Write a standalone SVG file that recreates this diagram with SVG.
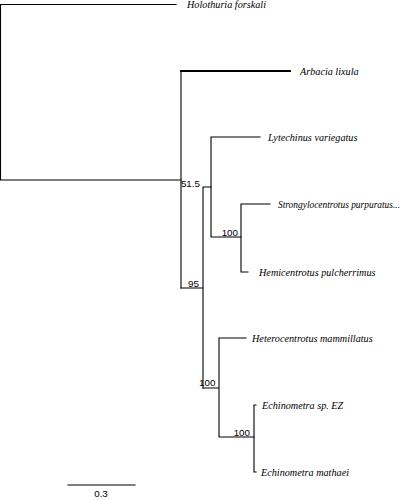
<svg xmlns="http://www.w3.org/2000/svg" width="410" height="500" viewBox="0 0 410 500">
<style>
.br{fill:none;stroke:#000;stroke-width:1.1;stroke-linecap:square}
.tx{font-family:"Liberation Serif","Times New Roman",serif;font-style:italic;font-size:10.2px;fill:#000}
.bs{font-family:"Liberation Sans",Arial,sans-serif;font-size:9.8px;fill:#000}
</style>
<rect width="410" height="500" fill="#fff"/>
<g id="connectors">
<path class="br" d="M0.5,4.5H176 M0.5,4.5V180 M0.5,180H181"/>
<path class="br" d="M181,71V288" />
<path class="br" style="stroke-width:1.8" d="M181,71H290"/>
<path class="br" d="M181,288H203 M203,187V388 M203,187H211"/>
<path class="br" d="M211,137V237 M211,137H260 M211,237H241"/>
<path class="br" d="M241,204V272 M241,204H270 M241,272H248"/>
<path class="br" d="M203,388H219 M219,338V437 M219,338H246 M219,437H254"/>
<path class="br" d="M254,405V472 M254,405H256 M254,472H256"/>
<path class="br" d="M68,485H135"/>
</g>
<g id="holothuria"><text class="tx" x="187" y="8">Holothuria forskali</text></g>
<g id="arbacia"><text class="tx" x="300" y="75">Arbacia lixula</text></g>
<g id="lytechinus"><text class="tx" x="268" y="141">Lytechinus variegatus</text></g>
<g id="strongylocentrotus"><text class="tx" x="278" y="208" textLength="122" lengthAdjust="spacingAndGlyphs">Strongylocentrotus purpuratus...</text></g>
<g id="hemicentrotus"><text class="tx" x="259" y="276">Hemicentrotus pulcherrimus</text></g>
<g id="heterocentrotus"><text class="tx" x="252" y="342">Heterocentrotus mammillatus</text></g>
<g id="echinometra-ez"><text class="tx" x="262" y="409">Echinometra sp. EZ</text></g>
<g id="echinometra-mathaei"><text class="tx" x="261" y="476">Echinometra mathaei</text></g>
<g id="node-51-5"><text class="bs" x="200" y="187" text-anchor="end">51.5</text></g>
<g id="node-100a"><text class="bs" x="238" y="236" text-anchor="end">100</text></g>
<g id="node-95"><text class="bs" x="199" y="287" text-anchor="end">95</text></g>
<g id="node-100b"><text class="bs" x="199" y="386">100</text></g>
<g id="node-100c"><text class="bs" x="250" y="436" text-anchor="end">100</text></g>
<g id="scale"><text class="bs" x="101" y="497" text-anchor="middle">0.3</text></g>
</svg>
